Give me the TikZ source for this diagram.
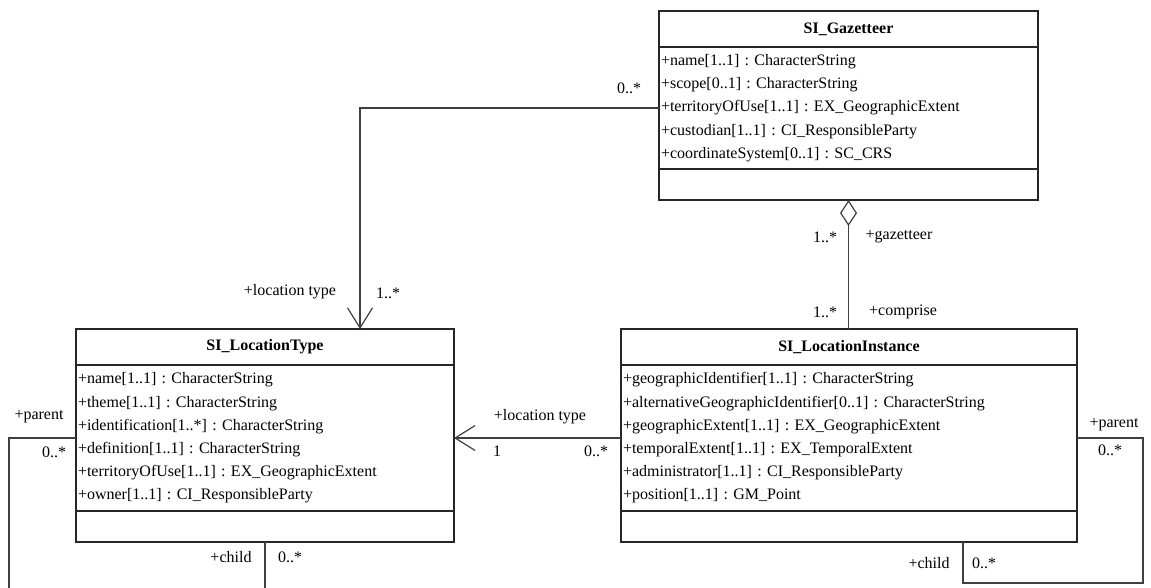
\documentclass[tikz,border=0pt]{standalone}
\usepackage{fontspec}
\setmainfont{Liberation Serif}
\frenchspacing
\usetikzlibrary{arrows.meta,positioning}
\tikzset{
  classname/.style={draw=black!85, line width=1.6pt, font=\fontsize{16}{23.2}\selectfont\bfseries, inner sep=0pt, outer sep=0pt, minimum height=36pt, anchor=north west},
  classattr/.style={draw=black!85, line width=1.6pt, font=\fontsize{16}{23.2}\selectfont, align=left, inner xsep=2pt, inner ysep=0pt, outer sep=0pt},
  classops/.style={draw=black!85, line width=1.6pt, inner sep=0pt, outer sep=0pt, minimum height=31pt},
  assoc/.style={draw=black!75, line width=1.2pt},
  navarrow/.style={assoc, -{Straight Barb[length=20pt,width=25pt]}},
  aggregation/.style={assoc, {Diamond[open,length=26pt,width=17pt]}-},
  role/.style={font=\fontsize{16}{19}\selectfont, inner sep=0pt}
}
\begin{document}
\begin{tikzpicture}[x=1pt, y=-1pt]
\useasboundingbox (0,0) rectangle (1151,588);
\clip (0,0) rectangle (1151,588);

% gazetteer
\node[classname, minimum width=379pt] (gaz) at (659,11) {SI\_Gazetteer};
\node[classattr, text width=375pt, minimum height=122pt, below=0pt of gaz] (gazattr) {+name[1..1] : CharacterString\\
+scope[0..1] : CharacterString\\
+territoryOfUse[1..1] : EX\_GeographicExtent\\
+custodian[1..1] : CI\_ResponsibleParty\\
+coordinateSystem[0..1] : SC\_CRS};
\node[classops, minimum width=379pt, below=0pt of gazattr] (gazops) {};

% location type
\node[classname, minimum width=378pt] (lt) at (76,329) {SI\_LocationType};
\node[classattr, text width=374pt, minimum height=146pt, below=0pt of lt] (ltattr) {+name[1..1] : CharacterString\\
+theme[1..1] : CharacterString\\
+identification[1..*] : CharacterString\\
+definition[1..1] : CharacterString\\
+territoryOfUse[1..1] : EX\_GeographicExtent\\
+owner[1..1] : CI\_ResponsibleParty};
\node[classops, minimum width=378pt, below=0pt of ltattr] (ltops) {};

% location instance
\node[classname, minimum width=456pt] (li) at (621,329) {SI\_LocationInstance};
\node[classattr, text width=452pt, minimum height=146pt, below=0pt of li] (liattr) {+geographicIdentifier[1..1] : CharacterString\\
+alternativeGeographicIdentifier[0..1] : CharacterString\\
+geographicExtent[1..1] : EX\_GeographicExtent\\
+temporalExtent[1..1] : EX\_TemporalExtent\\
+administrator[1..1] : CI\_ResponsibleParty\\
+position[1..1] : GM\_Point};
\node[classops, minimum width=456pt, below=0pt of liattr] (liops) {};

% associations
\draw[navarrow] (gazattr.west) -| ([xshift=95pt]lt.north);
\draw[navarrow] (liattr.west) -- (liattr.west -| ltattr.east);
\draw[aggregation] (gazops.south) -- (gazops.south |- li.north);
\draw[assoc] (ltattr.west) -- ++(-67,0) -- ++(0,200) -| (ltops.south);
\draw[assoc] (liattr.east) -- ++(66,0) -- ++(0,145) -| ([xshift=114pt]liops.south);

% role names and multiplicities
\node[role] (gazmult) at (629,88) {0..*};
\node[role] (ltrole) at (290,292) {+location type};
\node[role] (ltmult) at (388,293) {1..*};
\node[role] (typerole) at (540,417) {+location type};
\node[role] (typemult) at (497,451) {1};
\node[role] (instmult) at (596,451) {0..*};
\node[role] (aggmult) at (825,237) {1..*};
\node[role] (aggrole) at (899,237) {+gazetteer};
\node[role] (partmult) at (825,312) {1..*};
\node[role] (partrole) at (903,312) {+comprise};
\node[role] (ltparent) at (39,417) {+parent};
\node[role] (ltparentmult) at (54,452) {0..*};
\node[role] (ltchild) at (231,557) {+child};
\node[role] (ltchildmult) at (290,557) {0..*};
\node[role] (liparent) at (1114,425) {+parent};
\node[role] (liparentmult) at (1110,450) {0..*};
\node[role] (lichild) at (929,563) {+child};
\node[role] (lichildmult) at (984,563) {0..*};
\end{tikzpicture}
\end{document}
